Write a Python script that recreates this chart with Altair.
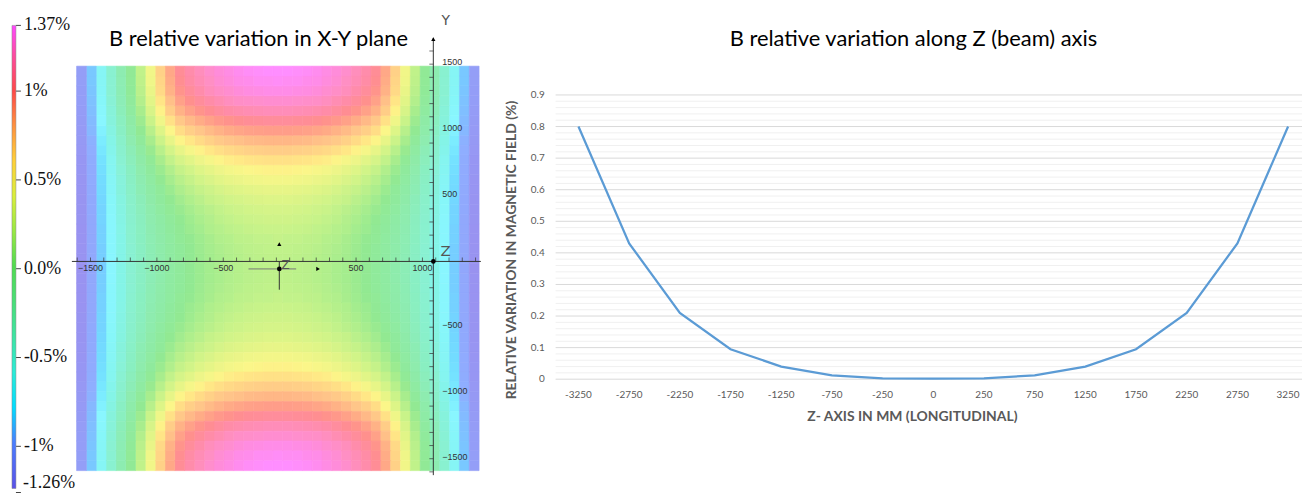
import altair as alt
import pandas as pd

# ================= data: left panel (B relative variation in X-Y plane, %) =================
# The map is mirror-symmetric in X and in Y; values were read for one quadrant
# (U = |X| / half-width, V = |Y| / half-height) and the picture shows the same in the others.
U_HALF = [0.00, 0.05, 0.10, 0.15, 0.20, 0.25, 0.30, 0.35, 0.40, 0.45, 0.50,
          0.55, 0.60, 0.65, 0.70, 0.75, 0.80, 0.85, 0.90, 0.95, 1.00]
V_HALF = [0.00, 0.05, 0.10, 0.15, 0.20, 0.25, 0.30, 0.35, 0.40, 0.45, 0.50,
          0.55, 0.60, 0.65, 0.70, 0.75, 0.80, 0.85, 0.90, 0.95, 1.00]
B_QUADRANT = [  # one row per V_HALF value, one column per U_HALF value
    [0.20, 0.20, 0.19, 0.18, 0.16, 0.14, 0.11, 0.08, 0.04, -0.01, -0.07, -0.13, -0.21, -0.29, -0.39, -0.49, -0.61, -0.75, -0.90, -1.07, -1.26],
    [0.20, 0.20, 0.19, 0.18, 0.16, 0.14, 0.11, 0.08, 0.04, -0.01, -0.07, -0.13, -0.21, -0.29, -0.39, -0.49, -0.61, -0.75, -0.90, -1.06, -1.25],
    [0.21, 0.21, 0.20, 0.19, 0.17, 0.15, 0.12, 0.09, 0.05, 0.00, -0.06, -0.12, -0.20, -0.28, -0.38, -0.49, -0.61, -0.74, -0.90, -1.06, -1.25],
    [0.23, 0.22, 0.22, 0.20, 0.19, 0.16, 0.14, 0.10, 0.06, 0.01, -0.04, -0.11, -0.19, -0.27, -0.37, -0.48, -0.61, -0.74, -0.89, -1.06, -1.25],
    [0.25, 0.25, 0.24, 0.23, 0.21, 0.19, 0.16, 0.13, 0.08, 0.04, -0.02, -0.09, -0.17, -0.26, -0.36, -0.47, -0.60, -0.74, -0.89, -1.06, -1.25],
    [0.28, 0.28, 0.27, 0.26, 0.24, 0.22, 0.19, 0.15, 0.11, 0.06, 0.00, -0.07, -0.15, -0.24, -0.35, -0.46, -0.59, -0.73, -0.88, -1.06, -1.24],
    [0.31, 0.31, 0.30, 0.29, 0.27, 0.25, 0.22, 0.18, 0.14, 0.09, 0.03, -0.04, -0.12, -0.22, -0.33, -0.45, -0.58, -0.72, -0.88, -1.05, -1.24],
    [0.35, 0.35, 0.34, 0.33, 0.31, 0.29, 0.26, 0.23, 0.18, 0.13, 0.07, 0.00, -0.09, -0.19, -0.31, -0.43, -0.57, -0.71, -0.87, -1.05, -1.24],
    [0.40, 0.40, 0.39, 0.38, 0.36, 0.34, 0.31, 0.27, 0.23, 0.18, 0.12, 0.04, -0.06, -0.16, -0.28, -0.41, -0.55, -0.70, -0.86, -1.04, -1.23],
    [0.46, 0.46, 0.45, 0.44, 0.42, 0.40, 0.37, 0.33, 0.29, 0.23, 0.17, 0.09, -0.01, -0.13, -0.26, -0.39, -0.54, -0.69, -0.85, -1.03, -1.23],
    [0.52, 0.52, 0.51, 0.50, 0.48, 0.46, 0.43, 0.39, 0.35, 0.29, 0.23, 0.14, 0.04, -0.09, -0.22, -0.37, -0.52, -0.67, -0.84, -1.03, -1.22],
    [0.60, 0.60, 0.59, 0.58, 0.56, 0.54, 0.51, 0.47, 0.43, 0.37, 0.31, 0.22, 0.10, -0.04, -0.18, -0.33, -0.49, -0.66, -0.83, -1.02, -1.22],
    [0.70, 0.70, 0.69, 0.68, 0.66, 0.64, 0.61, 0.57, 0.52, 0.47, 0.40, 0.30, 0.17, 0.03, -0.13, -0.30, -0.46, -0.63, -0.81, -1.00, -1.21],
    [0.81, 0.81, 0.80, 0.79, 0.77, 0.75, 0.72, 0.68, 0.63, 0.57, 0.51, 0.40, 0.26, 0.10, -0.07, -0.25, -0.43, -0.61, -0.79, -0.99, -1.20],
    [0.93, 0.93, 0.92, 0.91, 0.89, 0.87, 0.83, 0.79, 0.74, 0.69, 0.62, 0.50, 0.35, 0.17, -0.01, -0.20, -0.39, -0.58, -0.77, -0.97, -1.19],
    [1.05, 1.05, 1.04, 1.03, 1.01, 0.98, 0.95, 0.91, 0.86, 0.80, 0.73, 0.60, 0.44, 0.25, 0.05, -0.16, -0.36, -0.55, -0.75, -0.96, -1.18],
    [1.16, 1.16, 1.15, 1.14, 1.12, 1.10, 1.06, 1.02, 0.97, 0.91, 0.83, 0.70, 0.52, 0.32, 0.10, -0.11, -0.32, -0.53, -0.73, -0.95, -1.17],
    [1.24, 1.24, 1.23, 1.22, 1.21, 1.18, 1.14, 1.10, 1.05, 0.99, 0.91, 0.77, 0.58, 0.37, 0.15, -0.08, -0.30, -0.51, -0.71, -0.94, -1.16],
    [1.31, 1.31, 1.30, 1.29, 1.27, 1.24, 1.21, 1.17, 1.11, 1.05, 0.97, 0.83, 0.64, 0.41, 0.18, -0.05, -0.28, -0.49, -0.70, -0.93, -1.16],
    [1.35, 1.34, 1.34, 1.32, 1.31, 1.28, 1.25, 1.20, 1.15, 1.09, 1.01, 0.86, 0.66, 0.44, 0.20, -0.04, -0.27, -0.49, -0.69, -0.92, -1.15],
    [1.37, 1.37, 1.36, 1.35, 1.33, 1.30, 1.27, 1.23, 1.17, 1.11, 1.03, 0.88, 0.68, 0.45, 0.21, -0.03, -0.26, -0.48, -0.69, -0.92, -1.15],
]

CB_VALUES = [1.37, 1.0, 0.5, 0.0, -0.5, -1.0, -1.26]
CB_LABELS = ["1.37%", "1%", "0.5%", "0.0%", "-0.5%", "-1%", "-1.26%"]

XY_X_TICKS = [-1500, -1000, -500, 500, 1000]
XY_X_LABELS = ["\u22121500", "\u22121000", "\u2212500", "500", "1000"]
XY_Y_TICKS = [1500, 1000, 500, -500, -1000, -1500]
XY_Y_LABELS = ["1500", "1000", "500", "\u2212500", "\u22121000", "\u22121500"]
XY_MINOR_X = [-1600, -1500, -1400, -1300, -1200, -1100, -1000, -900, -800, -700, -600, -500,
              -400, -300, -200, -100, 0, 100, 200, 300, 400, 500, 600, 700, 800, 900, 1000,
              1100, 1200, 1300, 1400]
XY_MINOR_Y = [1600, 1500, 1400, 1300, 1200, 1100, 1000, 900, 800, 700, 600, 500, 400, 300, 200,
              100, 0, -100, -200, -300, -400, -500, -600, -700, -800, -900, -1000, -1100, -1200,
              -1300, -1400, -1500, -1600]

# ================= data: right panel (B relative variation along Z) =================
Z_CATS = ["-3250", "-2750", "-2250", "-1750", "-1250", "-750", "-250", "0",
          "250", "750", "1250", "1750", "2250", "2750", "3250"]
Z_VALUES = [0.80, 0.43, 0.21, 0.095, 0.04, 0.012, 0.003, 0.002,
            0.003, 0.012, 0.04, 0.095, 0.21, 0.43, 0.80]
Y_TICKS = [0.0, 0.1, 0.2, 0.3, 0.4, 0.5, 0.6, 0.7, 0.8, 0.9]
Y_TICK_LABELS = ["0", "0.1", "0.2", "0.3", "0.4", "0.5", "0.6", "0.7", "0.8", "0.9"]
Y_MINOR = [0.02, 0.04, 0.06, 0.08, 0.12, 0.14, 0.16, 0.18, 0.22, 0.24, 0.26, 0.28,
           0.32, 0.34, 0.36, 0.38, 0.42, 0.44, 0.46, 0.48, 0.52, 0.54, 0.56, 0.58,
           0.62, 0.64, 0.66, 0.68, 0.72, 0.74, 0.76, 0.78, 0.82, 0.84, 0.86, 0.88]

# ================= styles =================
STOPS = [-1.26, -1.0, -0.75, -0.5, -0.25, 0.0, 0.25, 0.5, 0.75, 1.0, 1.2, 1.37]
FULL = ["#5a50e6", "#4a7dff", "#40f0ff", "#40e8b8", "#48e080", "#50dc50",
        "#a8ec40", "#f8f040", "#ffa040", "#ff4848", "#ff4aa0", "#ff48ff"]


def pale(c, a=0.62):
    r, g, b = int(c[1:3], 16), int(c[3:5], 16), int(c[5:7], 16)
    return "#%02x%02x%02x" % tuple(round(v * a + 255 * (1 - a)) for v in (r, g, b))


PALE = [pale(c) for c in FULL]
SANS = "Lato"
GRAY = "#595959"
HALF_CELL = 0.025

HX = alt.Scale(domain=[-1.0 - HALF_CELL, 1.0 + HALF_CELL], range=[69, 474], nice=False, zero=False)
HY = alt.Scale(domain=[-1.0 - HALF_CELL, 1.0 + HALF_CELL], range=[464, 57], nice=False, zero=False)
AX = alt.Scale(domain=[-1500, 1000], range=[83, 417], nice=False, zero=False)
AY = alt.Scale(domain=[-1500, 1500], range=[452, 55], nice=False, zero=False)
CBY = alt.Scale(domain=[-1.26, 1.37], range=[486, 16], nice=False, zero=False)
LX = alt.Scale(type="point", domain=Z_CATS, range=[574, 1288], padding=0)
LY = alt.Scale(domain=[0, 0.9], range=[372, 86], nice=False, zero=False)
AXIS_X = 1082  # where the 3-D view draws its Y axis (in X units)

# ================= tables =================
heat_records = []
for vi, v in enumerate(V_HALF):
    for ui, u in enumerate(U_HALF):
        for sv in ([1, -1] if v > 0 else [1]):
            for su in ([1, -1] if u > 0 else [1]):
                heat_records.append({"u": su * u, "v": sv * v, "b": B_QUADRANT[vi][ui]})
heat_df = pd.DataFrame(heat_records)

cb_df = pd.DataFrame({"v": CB_VALUES, "label": CB_LABELS})
xl_df = pd.DataFrame({"x": XY_X_TICKS, "y": [0] * len(XY_X_TICKS), "label": XY_X_LABELS})
yl_df = pd.DataFrame({"x": [AXIS_X] * len(XY_Y_TICKS), "y": XY_Y_TICKS, "label": XY_Y_LABELS})
xt_df = pd.DataFrame({"x": XY_MINOR_X, "y": [0] * len(XY_MINOR_X)})
yt_df = pd.DataFrame({"x": [AXIS_X] * len(XY_MINOR_Y), "y": XY_MINOR_Y})
axis_df = pd.DataFrame({"x": [-1640, AXIS_X], "x2": [1440, AXIS_X], "y": [0, 1700], "y2": [0, -1625]})
line_df = pd.DataFrame({"z": Z_CATS, "v": Z_VALUES, "i": list(range(len(Z_CATS)))})
yt_lab_df = pd.DataFrame({"v": Y_TICKS, "label": Y_TICK_LABELS})
minor_df = pd.DataFrame({"v": Y_MINOR})

# ================= left panel layers =================
heat = alt.Chart(heat_df).transform_calculate(
    u0=f"datum.u - {HALF_CELL}", u1=f"datum.u + {HALF_CELL}",
    v0=f"datum.v - {HALF_CELL}", v1=f"datum.v + {HALF_CELL}",
).mark_rect(strokeWidth=0.6).encode(
    x=alt.X("u0:Q", scale=HX, axis=None), x2="u1:Q",
    y=alt.Y("v0:Q", scale=HY, axis=None), y2="v1:Q",
    color=alt.Color("b:Q", scale=alt.Scale(domain=STOPS, range=PALE), legend=None),
    stroke=alt.Stroke("b:Q", scale=alt.Scale(domain=STOPS, range=PALE), legend=None),
)

cbar = alt.Chart(cb_df).mark_text(text="").encode(
    x=alt.value(0), y=alt.value(0),
    color=alt.Color("v:Q", scale=alt.Scale(domain=STOPS, range=FULL), legend=alt.Legend(
        orient="none", legendX=4, legendY=16, direction="vertical", title=None,
        gradientLength=466, gradientThickness=4, gradientStrokeColor="#888888",
        gradientStrokeWidth=0.5, labelExpr="''", labelFontSize=1, values=CB_VALUES)),
)
cb_ticks = alt.Chart(cb_df).mark_rule(color="#444444", strokeWidth=1).encode(
    x=alt.value(8), x2=alt.value(13), y=alt.Y("v:Q", scale=CBY, axis=None))
cb_text = alt.Chart(cb_df).transform_filter("datum.v > -1.2").mark_text(
    align="left", baseline="middle", font="Liberation Serif", fontSize=18, color="#111111"
).encode(x=alt.value(16), y=alt.Y("v:Q", scale=CBY, axis=None), text="label:N")
cb_text_low = alt.Chart(cb_df).transform_filter("datum.v <= -1.2").mark_text(
    align="left", baseline="middle", dy=-10, font="Liberation Serif", fontSize=18, color="#111111"
).encode(x=alt.value(15), y=alt.Y("v:Q", scale=CBY, axis=None), text="label:N")

axes = alt.Chart(axis_df).mark_rule(color="#333333", strokeWidth=1).encode(
    x=alt.X("x:Q", scale=AX, axis=None), x2="x2:Q",
    y=alt.Y("y:Q", scale=AY, axis=None), y2="y2:Q")
xticks = alt.Chart(xt_df).mark_tick(orient="vertical", size=4, thickness=1, yOffset=-2,
                                     color="#333333").encode(
    x=alt.X("x:Q", scale=AX, axis=None), y=alt.Y("y:Q", scale=AY, axis=None))
yticks = alt.Chart(yt_df).mark_tick(orient="horizontal", size=4, thickness=1, xOffset=-2,
                                     color="#333333").encode(
    x=alt.X("x:Q", scale=AX, axis=None), y=alt.Y("y:Q", scale=AY, axis=None))
xlabels = alt.Chart(xl_df).mark_text(align="center", baseline="middle", dy=7, font="Liberation Sans",
                                     fontSize=9, color="#333333").encode(
    x=alt.X("x:Q", scale=AX, axis=None), y=alt.Y("y:Q", scale=AY, axis=None), text="label:N")
ylabels = alt.Chart(yl_df).mark_text(align="left", baseline="middle", dx=9, dy=-2,
                                     font="Liberation Sans", fontSize=9, color="#333333").encode(
    x=alt.X("x:Q", scale=AX, axis=None), y=alt.Y("y:Q", scale=AY, axis=None), text="label:N")

# 3-D view gizmo decorations (in the same X/Y units)
giz_lines = alt.Chart(pd.DataFrame({
    "x": [-310, -78], "x2": [49, -78], "y": [-57, 0], "y2": [-57, -215], "c": ["#777777", "#333333"]
})).mark_rule(strokeWidth=1).encode(
    x=alt.X("x:Q", scale=AX, axis=None), x2="x2:Q",
    y=alt.Y("y:Q", scale=AY, axis=None), y2="y2:Q", color=alt.Color("c:N", scale=None))
giz_dots = alt.Chart(pd.DataFrame({"x": [-78, AXIS_X], "y": [-57, 0]})).mark_circle(
    size=22, color="black", opacity=1).encode(
    x=alt.X("x:Q", scale=AX, axis=None), y=alt.Y("y:Q", scale=AY, axis=None))
giz_up = alt.Chart(pd.DataFrame({"x": [-78, AXIS_X], "y": [132, 1690]})).mark_point(
    shape="triangle-up", size=18, filled=True, color="black", opacity=1).encode(
    x=alt.X("x:Q", scale=AX, axis=None), y=alt.Y("y:Q", scale=AY, axis=None))
giz_right = alt.Chart(pd.DataFrame({"x": [214], "y": [-57]})).mark_point(
    shape="triangle-right", size=18, filled=True, color="black", opacity=1).encode(
    x=alt.X("x:Q", scale=AX, axis=None), y=alt.Y("y:Q", scale=AY, axis=None))
giz_text = alt.Chart(pd.DataFrame({
    "x": [-30, 1175, 1175], "y": [-25, 80, 1830], "t": ["Z", "Z", "Y"], "s": [12, 15, 14]
})).mark_text(font="DejaVu Sans", fontWeight="normal", color="#555555").encode(
    x=alt.X("x:Q", scale=AX, axis=None), y=alt.Y("y:Q", scale=AY, axis=None), text="t:N",
    size=alt.Size("s:Q", scale=None))

left_title = alt.Chart(pd.DataFrame({"t": ["B relative variation in X-Y plane"]})).mark_text(
    font=SANS, fontSize=22, color="black", align="center", baseline="middle").encode(
    x=alt.value(252), y=alt.value(30), text="t:N")

# ================= right panel layers =================
g_minor = alt.Chart(minor_df).mark_rule(color="#f0f0f0", strokeWidth=1).encode(
    x=alt.value(551), x2=alt.value(1302), y=alt.Y("v:Q", scale=LY, axis=None))
g_major = alt.Chart(yt_lab_df).mark_rule(color="#d9d9d9", strokeWidth=1).encode(
    x=alt.value(551), x2=alt.value(1302), y=alt.Y("v:Q", scale=LY, axis=None))
line = alt.Chart(line_df).mark_line(color="#5b9bd5", strokeWidth=2.25).encode(
    x=alt.X("z:N", scale=LX, axis=None), y=alt.Y("v:Q", scale=LY, axis=None), order="i:Q")
ylab = alt.Chart(yt_lab_df).mark_text(align="right", baseline="middle", font=SANS, fontSize=10,
                                      color=GRAY).encode(
    x=alt.value(540), y=alt.Y("v:Q", scale=LY, axis=None), text="label:N")
xlab = alt.Chart(line_df).mark_text(align="center", baseline="middle", font=SANS, fontSize=10,
                                    color=GRAY).encode(
    x=alt.X("z:N", scale=LX, axis=None), y=alt.value(388), text="z:N")
right_title = alt.Chart(pd.DataFrame({"t": ["B relative variation along Z (beam) axis"]})).mark_text(
    font=SANS, fontSize=22, color="black", align="center", baseline="middle").encode(
    x=alt.value(911), y=alt.value(30), text="t:N")
x_title = alt.Chart(pd.DataFrame({"t": ["Z- AXIS IN MM (LONGITUDINAL)"]})).mark_text(
    font=SANS, fontSize=14, fontWeight="bold", color=GRAY, align="center", baseline="middle").encode(
    x=alt.value(910), y=alt.value(410), text="t:N")
y_title = alt.Chart(pd.DataFrame({"t": ["RELATIVE VARIATION IN MAGNETIC FIELD (%)"]})).mark_text(
    font=SANS, fontSize=14, fontWeight="bold", color=GRAY, align="center", baseline="middle",
    angle=270).encode(x=alt.value(507), y=alt.value(242), text="t:N")

chart = alt.layer(
    heat, cbar, cb_ticks, cb_text, cb_text_low, axes, xticks, yticks, xlabels, ylabels,
    giz_lines, giz_dots, giz_up, giz_right, giz_text, left_title,
    g_minor, g_major, line, ylab, xlab, right_title, x_title, y_title,
).resolve_scale(
    x="independent", y="independent", color="independent", stroke="independent", size="independent"
).properties(
    width=1302, height=485, padding=0, background="white",
    autosize=alt.AutoSizeParams(type="none"),
).configure_view(stroke=None)

chart.save("out.html", embed_options={"renderer": "svg", "actions": False})
